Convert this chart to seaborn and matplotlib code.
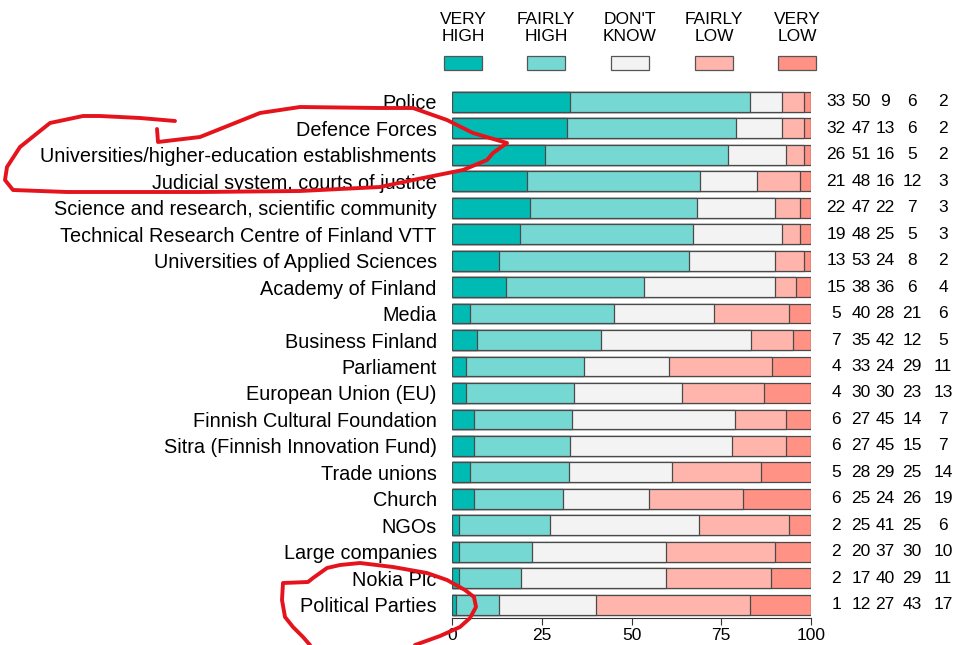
import matplotlib
matplotlib.use("Agg")
import matplotlib.pyplot as plt
from matplotlib.patches import Rectangle
from matplotlib.lines import Line2D
import seaborn as sns
import numpy as np
import pandas as pd

sns.set_style("white")
plt.rcParams["font.family"] = ["Liberation Sans", "DejaVu Sans"]
plt.rcParams["text.color"] = "black"
plt.rcParams["xtick.color"] = "black"
plt.rcParams["ytick.color"] = "black"

institutions = [
    "Police", "Defence Forces", "Universities/higher-education establishments",
    "Judicial system, courts of justice", "Science and research, scientific community",
    "Technical Research Centre of Finland VTT", "Universities of Applied Sciences",
    "Academy of Finland", "Media", "Business Finland", "Parliament",
    "European Union (EU)", "Finnish Cultural Foundation", "Sitra (Finnish Innovation Fund)",
    "Trade unions", "Church", "NGOs", "Large companies", "Nokia Plc", "Political Parties",
]
very_high = [33, 32, 26, 21, 22, 19, 13, 15, 5, 7, 4, 4, 6, 6, 5, 6, 2, 2, 2, 1]
fairly_high = [50, 47, 51, 48, 47, 48, 53, 38, 40, 35, 33, 30, 27, 27, 28, 25, 25, 20, 17, 12]
dont_know = [9, 13, 16, 16, 22, 25, 24, 36, 28, 42, 24, 30, 45, 45, 29, 24, 41, 37, 40, 27]
fairly_low = [6, 6, 5, 12, 7, 5, 8, 6, 21, 12, 29, 23, 14, 15, 25, 26, 25, 30, 29, 43]
very_low = [2, 2, 2, 3, 3, 3, 2, 4, 6, 5, 11, 13, 7, 7, 14, 19, 6, 10, 11, 17]

legend_labels = ["VERY\nHIGH", "FAIRLY\nHIGH", "DON'T\nKNOW", "FAIRLY\nLOW", "VERY\nLOW"]
colors = ["#00BBB4", "#76D8D3", "#F3F3F3", "#FFB5AC", "#FF9185"]

df = pd.DataFrame({"institution": institutions, "vh": very_high, "fh": fairly_high,
                   "dk": dont_know, "fl": fairly_low, "vl": very_low})
cols = ["vh", "fh", "dk", "fl", "vl"]
vals = df[cols].to_numpy(dtype=float)
shares = vals / vals.sum(axis=1, keepdims=True) * 100
cum = np.cumsum(shares, axis=1)

fig = plt.figure(figsize=(9.55, 6.45), dpi=100)
W, H = 955, 645
ax = fig.add_axes([452 / W, 1 - 618 / H, (811 - 452) / W, (618 - 88.5) / H])

# stacked bars: draw cumulative totals from the right-most segment inwards
for k in range(4, -1, -1):
    sns.barplot(x=cum[:, k], y=df["institution"], orient="h", color=colors[k],
                saturation=1, width=0.75, edgecolor="#4a4a4a", linewidth=0.9, ax=ax)

ax.set_xlim(0, 100)
ax.set_ylim(19.5, -0.5)
ax.set_xlabel("")
ax.set_ylabel("")
ax.set_xticks([0, 25, 50, 75, 100])
ax.tick_params(axis="x", length=5, width=0.8, color="#333333", labelsize=12.5, pad=2, bottom=True)
ax.tick_params(axis="y", length=0, labelsize=14.3, pad=11)
for s in ["top", "right", "left"]:
    ax.spines[s].set_visible(False)
ax.spines["bottom"].set_color("#333333")
ax.spines["bottom"].set_linewidth(0.8)

# numbers on the right
num_x = [836, 861, 885, 912, 943]
for i in range(len(institutions)):
    for j, c in enumerate(cols):
        xd = (num_x[j] - 452) / (811 - 452) * 100
        ax.text(xd, i, str(int(vals[i, j])), ha="center", va="center",
                fontsize=12.5, clip_on=False)

# legend above the chart
leg_x = [463, 546, 630, 714, 797]
for cx, lab, col in zip(leg_x, legend_labels, colors):
    fig.add_artist(Rectangle(((cx - 19) / W, 1 - 70 / H), 38 / W, 14 / H,
                             transform=fig.transFigure, facecolor=col,
                             edgecolor="#555555", linewidth=0.9))
    fig.text(cx / W, 1 - 28 / H, lab, ha="center", va="center", fontsize=12.5,
             linespacing=1.12)

# red hand-drawn highlights
red = "#E5141C"
ellipse = [(157, 129), (158, 142), (200, 137), (260, 113), (300, 107), (380, 108),
           (413, 108), (447, 120), (473, 133), (507, 143), (493, 153), (487, 160),
           (463, 170), (413, 180), (380, 187), (300, 191), (200, 192), (67, 192),
           (13, 190), (5, 180), (7, 167), (20, 147), (50, 123), (83, 116),
           (100, 116), (140, 118), (175, 121)]
fig.add_artist(Line2D([p[0] / W for p in ellipse], [1 - p[1] / H for p in ellipse],
                      color=red, linewidth=2.8, solid_capstyle="round",
                      solid_joinstyle="round", transform=fig.transFigure, zorder=10))
curve = [(415, 645), (440, 636), (460, 627), (470, 618), (476, 607), (474, 597),
         (465, 590), (447, 580), (427, 573), (393, 567), (360, 563), (340, 565),
         (327, 568), (313, 578), (308, 582), (283, 583), (282, 600), (285, 617),
         (293, 627), (303, 637), (310, 645)]
fig.add_artist(Line2D([p[0] / W for p in curve], [1 - p[1] / H for p in curve],
                      color=red, linewidth=2.8, solid_capstyle="round",
                      solid_joinstyle="round", transform=fig.transFigure, zorder=10))

fig.savefig("out.png", dpi=100)
